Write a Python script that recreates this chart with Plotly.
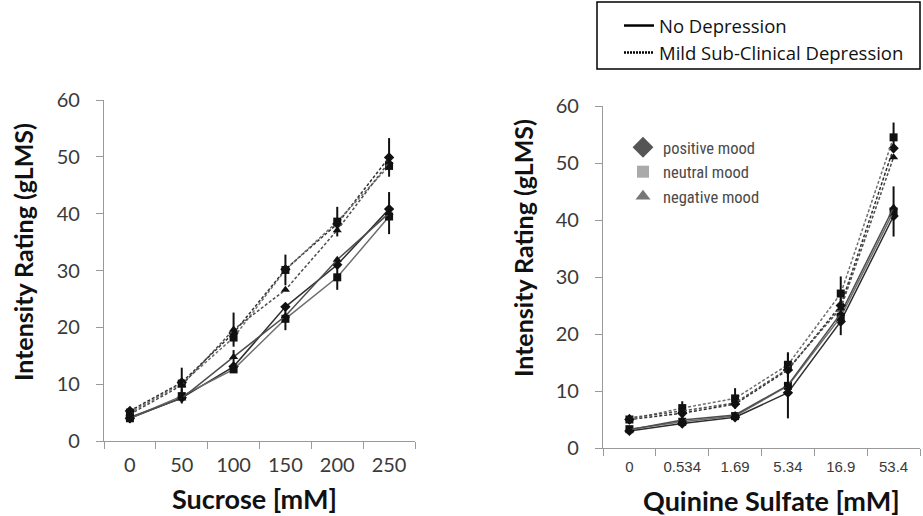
import plotly.graph_objects as go

W, H = 923, 516

# ---------------- data ----------------
sucrose_labels = ["0", "50", "100", "150", "200", "250"]
quinine_labels = ["0", "0.534", "1.69", "5.34", "16.9", "53.4"]

# Sucrose panel (gLMS)
suc_nd_pos = [4.0, 7.6, 13.1, 23.6, 31.0, 40.8]
suc_nd_neu = [4.0, 7.9, 12.6, 21.5, 28.8, 39.5]
suc_nd_neg = [4.2, 7.5, 14.8, 22.0, 31.9, 40.1]
suc_mi_pos = [5.3, 10.3, 19.0, 30.2, 38.2, 49.9]
suc_mi_neu = [5.0, 10.1, 18.2, 30.1, 38.6, 48.4]
suc_mi_neg = [4.7, 9.8, 19.6, 26.6, 37.1, 49.1]

suc_err_nd_neu = [0.8, 1.3, 0.0, 2.0, 2.2, 0.0]
suc_err_nd_neg = [0.0, 0.0, 1.2, 0.0, 0.0, 3.7]
suc_err_mi_neu = [0.8, 2.8, 0.0, 2.7, 2.6, 0.0]
suc_err_mi_neg = [0.0, 0.0, 3.0, 0.0, 0.0, 0.0]
suc_err_mi_pos = [0.0, 0.0, 0.0, 0.0, 0.0, 3.4]

# Quinine panel (gLMS)
qui_nd_pos = [3.0, 4.3, 5.4, 9.7, 22.2, 40.7]
qui_nd_neu = [3.3, 4.6, 5.6, 10.9, 23.0, 41.5]
qui_nd_neg = [3.2, 4.9, 5.8, 11.0, 23.6, 42.2]
qui_mi_pos = [5.0, 6.1, 7.7, 13.7, 25.0, 52.6]
qui_mi_neu = [5.0, 7.0, 8.7, 14.6, 27.1, 54.5]
qui_mi_neg = [5.3, 6.5, 7.9, 13.9, 24.5, 51.0]

qui_err_nd_neu = [0.6, 0.8, 0.6, 5.7, 3.2, 4.4]
qui_err_mi_neu = [0.8, 1.2, 1.8, 2.2, 3.0, 2.6]

group_names = ["No Depression", "Mild Sub-Clinical Depression"]
mood_names = ["positive mood", "neutral mood", "negative mood"]

# ---------------- styling ----------------
SYM = {"pos": "diamond", "neu": "square", "neg": "triangle-up"}
LCOL = {"pos": "#2e2e2e", "neu": "#6e6e6e", "neg": "#4e4e4e"}
DASH = "3px,2px"

fig = go.Figure()


def add_series(xl, y, mood, dashed, xa, ya, err=None):
    kw = {}
    if err is not None:
        kw["error_y"] = dict(type="data", array=err, visible=True,
                             color="#111111", thickness=2, width=0)
    fig.add_trace(go.Scatter(
        x=xl, y=y, mode="lines+markers",
        line=dict(color=LCOL[mood], width=1.5, dash=DASH if dashed else "solid"),
        marker=dict(symbol=SYM[mood], size=8, color="#111111"),
        xaxis=xa, yaxis=ya, showlegend=False, **kw))


# left panel
add_series(sucrose_labels, suc_nd_pos, "pos", False, "x", "y")
add_series(sucrose_labels, suc_nd_neu, "neu", False, "x", "y", suc_err_nd_neu)
add_series(sucrose_labels, suc_nd_neg, "neg", False, "x", "y", suc_err_nd_neg)
add_series(sucrose_labels, suc_mi_pos, "pos", True, "x", "y", suc_err_mi_pos)
add_series(sucrose_labels, suc_mi_neu, "neu", True, "x", "y", suc_err_mi_neu)
add_series(sucrose_labels, suc_mi_neg, "neg", True, "x", "y", suc_err_mi_neg)

# right panel
add_series(quinine_labels, qui_nd_pos, "pos", False, "x2", "y2")
add_series(quinine_labels, qui_nd_neu, "neu", False, "x2", "y2", qui_err_nd_neu)
add_series(quinine_labels, qui_nd_neg, "neg", False, "x2", "y2")
add_series(quinine_labels, qui_mi_pos, "pos", True, "x2", "y2")
add_series(quinine_labels, qui_mi_neu, "neu", True, "x2", "y2", qui_err_mi_neu)
add_series(quinine_labels, qui_mi_neg, "neg", True, "x2", "y2")

# legend 1 : depression groups (line styles)
fig.add_trace(go.Scatter(x=[None], y=[None], mode="lines", name=group_names[0],
                         line=dict(color="#000000", width=2.5),
                         xaxis="x2", yaxis="y2", legend="legend"))
fig.add_trace(go.Scatter(x=[None], y=[None], mode="lines", name=group_names[1],
                         line=dict(color="#000000", width=2.5, dash="2px,1px"),
                         xaxis="x2", yaxis="y2", legend="legend"))

# legend 2 : moods (marker symbols)
mood_cols = ["#555555", "#aaaaaa", "#777777"]
mood_syms = ["diamond", "square", "triangle-up"]
mood_sizes = [17, 12, 13]
for nm, c, s, sz in zip(mood_names, mood_cols, mood_syms, mood_sizes):
    fig.add_trace(go.Scatter(x=[None], y=[None], mode="markers", name=nm,
                             marker=dict(symbol=s, size=sz, color=c),
                             xaxis="x2", yaxis="y2", legend="legend2"))

AX = "#9a9a9a"
TICKFONT = dict(family="Lato, Liberation Sans, sans-serif", size=20, color="#3a3a3a")


def yax(domain, anchor):
    return dict(domain=domain, anchor=anchor, range=[0, 60], dtick=10,
                showline=True, linecolor=AX, linewidth=1.3,
                ticks="outside", ticklen=7, tickcolor=AX, tickwidth=1.3,
                showgrid=False, zeroline=False, tickfont=TICKFONT,
                ticklabelstandoff=12)


def xax(domain, anchor, cats, font, standoff):
    return dict(domain=domain, anchor=anchor, type="category",
                categoryorder="array", categoryarray=cats,
                range=[-0.5, 5.5], showline=True, linecolor=AX, linewidth=1.3,
                ticks="outside", tickson="boundaries", ticklen=7,
                tickcolor=AX, tickwidth=1.3, showgrid=False, zeroline=False,
                tickfont=font, ticklabelstandoff=standoff)


fig.update_layout(
    width=W, height=H,
    margin=dict(l=0, r=0, t=0, b=0, autoexpand=False),
    paper_bgcolor="white", plot_bgcolor="white",
    xaxis=xax([104 / W, 415 / W], "y", sucrose_labels, TICKFONT, 6),
    yaxis=yax([(H - 441) / H, (H - 100) / H], "x"),
    xaxis2=xax([603 / W, 920 / W], "y2", quinine_labels,
               dict(family="Liberation Sans, Arial, sans-serif", size=15, color="#3a3a3a"), 5),
    yaxis2=yax([(H - 448) / H, (H - 106) / H], "x2"),
    legend=dict(x=619 / W, y=1 - 7 / H, xanchor="left", yanchor="top",
                bgcolor="rgba(0,0,0,0)", borderwidth=0,
                font=dict(family="Open Sans, sans-serif", size=18.5, color="#111111"),
                itemwidth=30, tracegroupgap=0),
    legend2=dict(x=623 / W, y=(H - 130) / H, xanchor="left", yanchor="top",
                 bgcolor="rgba(0,0,0,0)", borderwidth=0, itemsizing="trace",
                 tracegroupgap=0,
                 font=dict(family="Roboto Condensed, Roboto, sans-serif", size=16.5,
                           color="#4a4a4a")),
    showlegend=True,
    shapes=[dict(type="rect", xref="paper", yref="paper",
                 x0=597 / W, x1=920 / W, y0=1 - 69 / H, y1=1 - 2 / H,
                 line=dict(color="#000000", width=1.5), fillcolor="rgba(0,0,0,0)")],
)

TITLEFONT = dict(family="Lato, Liberation Sans, sans-serif", color="#111111", weight=700)

annotations = [
    dict(text="Intensity Rating (gLMS)", textangle=-90, x=23 / W, y=(H - 252) / H,
         font=dict(size=25, **TITLEFONT)),
    dict(text="Intensity Rating (gLMS)", textangle=-90, x=523 / W, y=(H - 248) / H,
         font=dict(size=25, **TITLEFONT)),
    dict(text="Sucrose [mM]", x=254 / W, y=(H - 498) / H,
         font=dict(size=27, **TITLEFONT)),
    dict(text="Quinine Sulfate [mM]", x=771 / W, y=(H - 500) / H,
         font=dict(size=27, **TITLEFONT)),
]
for a in annotations:
    a.update(xref="paper", yref="paper", showarrow=False, xanchor="center", yanchor="middle")
fig.update_layout(annotations=annotations)

fig.write_html("out.html", config={"displayModeBar": False},
               post_script="document.body.style.margin='0px';document.body.style.overflow='hidden';")
